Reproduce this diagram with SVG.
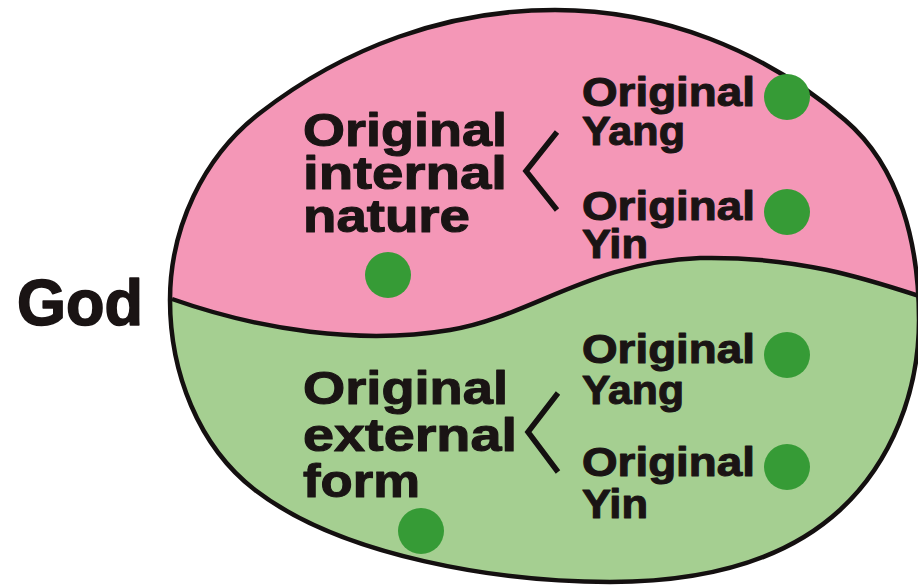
<svg xmlns="http://www.w3.org/2000/svg" width="918" height="586" viewBox="0 0 918 586">
  <defs>
    <style>
      .t { font-family: "Liberation Sans", Arial, sans-serif; font-weight: bold; fill: #1a1414; stroke: #1a1414; stroke-width: 1.1; stroke-linejoin: round; }
      .big { font-size: 47px; }
      .small { font-size: 41px; }
      .god { font-size: 64px; stroke-width: 1.6; }
      .dot { fill: #369b36; }
      .line { fill: none; stroke: #141010; stroke-width: 4.5; }
      .br { fill: none; stroke: #141010; stroke-width: 5.5; stroke-linejoin: miter; }
    </style>
    <path id="egg" d="M170,300 C170,228 203,157 260,113 C345,47 447,10 555,10 C662,10 764,50 845,120 C901,168 919,246 919,320 C919,391 892,462 840,510 C779,566 693,582 610,582 C500,582 342,557 255,490 C198,446 170,372 170,300 Z"/>
    <clipPath id="eggClip"><use href="#egg"/></clipPath>
  </defs>
  <rect width="918" height="586" fill="#ffffff"/>

  <g id="shape">
    <use href="#egg" fill="#a5cf91"/>
    <path clip-path="url(#eggClip)" fill="#f497b7" d="M172,299 C260,330 360,345 450,330 C530,317 590,262 700,258 C800,256 870,280 930,300 L930,0 L0,0 L0,299 Z"/>
  </g>

  <g id="connectors">
    <path class="line" d="M172,299 C260,330 360,345 450,330 C530,317 590,262 700,258 C800,256 870,280 925,298" clip-path="url(#eggClip)"/>
    <use href="#egg" class="line"/>
    <path class="br" d="M557,132 L526,171 L557,210"/>
    <path class="br" d="M558,393 L528,432 L558,472"/>
  </g>

  <g id="god">
    <text class="t god" x="17" y="325" textLength="126" lengthAdjust="spacingAndGlyphs">God</text>
  </g>

  <g id="internal-nature">
    <text class="t big">
      <tspan x="303" y="146" textLength="204" lengthAdjust="spacingAndGlyphs">Original</tspan>
      <tspan x="303" y="189" textLength="204" lengthAdjust="spacingAndGlyphs">internal</tspan>
      <tspan x="303" y="232" textLength="167" lengthAdjust="spacingAndGlyphs">nature</tspan>
    </text>
    <circle class="dot" cx="388" cy="275" r="23"/>
  </g>

  <g id="external-form">
    <text class="t big">
      <tspan x="303" y="404" textLength="205" lengthAdjust="spacingAndGlyphs">Original</tspan>
      <tspan x="303" y="451" textLength="214" lengthAdjust="spacingAndGlyphs">external</tspan>
      <tspan x="303" y="497" textLength="117" lengthAdjust="spacingAndGlyphs">form</tspan>
    </text>
    <circle class="dot" cx="421" cy="531" r="23"/>
  </g>

  <g id="internal-yang">
    <text class="t small">
      <tspan x="582" y="106" textLength="173" lengthAdjust="spacingAndGlyphs">Original</tspan>
      <tspan x="582" y="145" textLength="103" lengthAdjust="spacingAndGlyphs">Yang</tspan>
    </text>
    <circle class="dot" cx="787" cy="97" r="23"/>
  </g>

  <g id="internal-yin">
    <text class="t small">
      <tspan x="582" y="220" textLength="173" lengthAdjust="spacingAndGlyphs">Original</tspan>
      <tspan x="582" y="258" textLength="66" lengthAdjust="spacingAndGlyphs">Yin</tspan>
    </text>
    <circle class="dot" cx="787" cy="212" r="23"/>
  </g>

  <g id="external-yang">
    <text class="t small">
      <tspan x="582" y="363" textLength="173" lengthAdjust="spacingAndGlyphs">Original</tspan>
      <tspan x="582" y="404" textLength="102" lengthAdjust="spacingAndGlyphs">Yang</tspan>
    </text>
    <circle class="dot" cx="787" cy="355" r="23"/>
  </g>

  <g id="external-yin">
    <text class="t small">
      <tspan x="582" y="476" textLength="173" lengthAdjust="spacingAndGlyphs">Original</tspan>
      <tspan x="582" y="518" textLength="66" lengthAdjust="spacingAndGlyphs">Yin</tspan>
    </text>
    <circle class="dot" cx="787" cy="467" r="23"/>
  </g>
</svg>
